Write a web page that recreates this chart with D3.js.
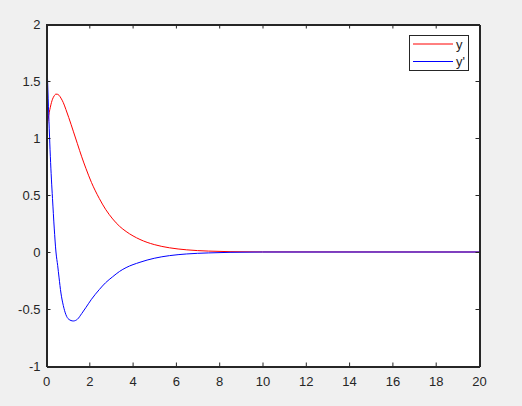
<!DOCTYPE html>
<html><head><meta charset="utf-8">
<script src="https://cdn.jsdelivr.net/npm/d3@7"></script>
<style>
html,body{margin:0;padding:0;background:#f0f0f0;}
svg{display:block;}
text{font-family:"Liberation Sans",Arial,sans-serif;font-size:13px;fill:#262626;}
</style></head>
<body>
<script>
// Data
const tVals = [0,0.05,0.1,0.15,0.2,0.25,0.3,0.38,0.46,0.54,0.6,0.69,0.8,0.92,1.05,1.26,1.45,1.65,1.85,2.1,2.46,2.75,3.08,3.4,3.7,4.34,5,5.7,6.5,7.5,8.5,10,20];
const yVals = [1.0,1.09,1.165,1.225,1.27,1.31,1.34,1.37,1.385,1.383,1.375,1.35,1.31,1.25,1.18,1.06,0.95,0.835,0.73,0.61,0.47,0.375,0.29,0.225,0.18,0.11,0.065,0.037,0.019,0.008,0.003,0.0005,0];
const dVals = [2.0,1.65,1.35,1.08,0.84,0.64,0.47,0.21,0.0,-0.12,-0.22,-0.36,-0.47,-0.55,-0.59,-0.605,-0.59,-0.54,-0.485,-0.415,-0.33,-0.27,-0.217,-0.17,-0.137,-0.09,-0.055,-0.032,-0.017,-0.008,-0.003,0,0];
const xTicks = [0,2,4,6,8,10,12,14,16,18,20];
const yTicks = [-1,-0.5,0,0.5,1,1.5,2];
const seriesNames = ["y","y'"];
const seriesColors = ["#ff0000","#0000ff"];

const W=522,H=406;
const L=46,R=479,T=24,B=366;
const svg=d3.select("body").append("svg").attr("width",W).attr("height",H);
svg.append("rect").attr("x",L).attr("y",T).attr("width",R-L).attr("height",B-T).attr("fill","#fff");

const x=d3.scaleLinear().domain([0,20]).range([L,R]);
const y=d3.scaleLinear().domain([-1,2]).range([B,T]);

svg.append("defs").append("clipPath").attr("id","clip")
  .append("rect").attr("x",L).attr("y",T-1).attr("width",R-L).attr("height",B-T+2);

const line=d3.line().x(d=>x(d[0])).y(d=>y(d[1])).curve(d3.curveMonotoneX);
const g=svg.append("g").attr("clip-path","url(#clip)");
[yVals,dVals].forEach((vals,i)=>{
  g.append("path").datum(tVals.map((t,j)=>[t,vals[j]])).attr("d",line)
    .attr("fill","none").attr("stroke",seriesColors[i]).attr("stroke-width",1);
});

// axes
const ax=svg.append("g");
const tl=4;
const fmt=d=>String(d);
ax.append("g").attr("transform",`translate(0,${B+0.5})`)
  .call(d3.axisBottom(x).tickValues(xTicks).tickSizeInner(-tl).tickSizeOuter(0).tickPadding(10).tickFormat(fmt));
ax.append("g").attr("transform",`translate(0,${T+0.5})`)
  .call(d3.axisTop(x).tickValues(xTicks).tickSizeInner(-tl).tickSizeOuter(0).tickFormat(""));
ax.append("g").attr("transform",`translate(${L+0.5},0)`)
  .call(d3.axisLeft(y).tickValues(yTicks).tickSizeInner(-tl).tickSizeOuter(0).tickPadding(6).tickFormat(fmt));
ax.append("g").attr("transform",`translate(${R+0.5},0)`)
  .call(d3.axisRight(y).tickValues(yTicks).tickSizeInner(-tl).tickSizeOuter(0).tickFormat(""));
ax.selectAll(".domain").attr("stroke","#262626").attr("stroke-width",1).attr("shape-rendering","crispEdges");
ax.selectAll(".tick line").attr("stroke","#262626").attr("stroke-width",1);
ax.selectAll("text").attr("fill","#262626").style("font-size","13px").style("font-family","'Liberation Sans',Arial,sans-serif");
// full box
svg.append("rect").attr("x",L+0.5).attr("y",T+0.5).attr("width",R-L).attr("height",B-T)
  .attr("fill","none").attr("stroke","#262626").attr("stroke-width",1);

// legend
const lg=svg.append("g");
lg.append("rect").attr("x",409.5).attr("y",35.5).attr("width",59).attr("height",35)
  .attr("fill","#fff").attr("stroke","#262626").attr("stroke-width",1);
seriesNames.forEach((n,i)=>{
  const yy=44+i*17.5;
  lg.append("line").attr("x1",413).attr("x2",453).attr("y1",yy).attr("y2",yy)
    .attr("stroke",seriesColors[i]).attr("stroke-width",1);
  lg.append("text").attr("x",456).attr("y",yy+4.5).text(n);
});
</script>
</body></html>
